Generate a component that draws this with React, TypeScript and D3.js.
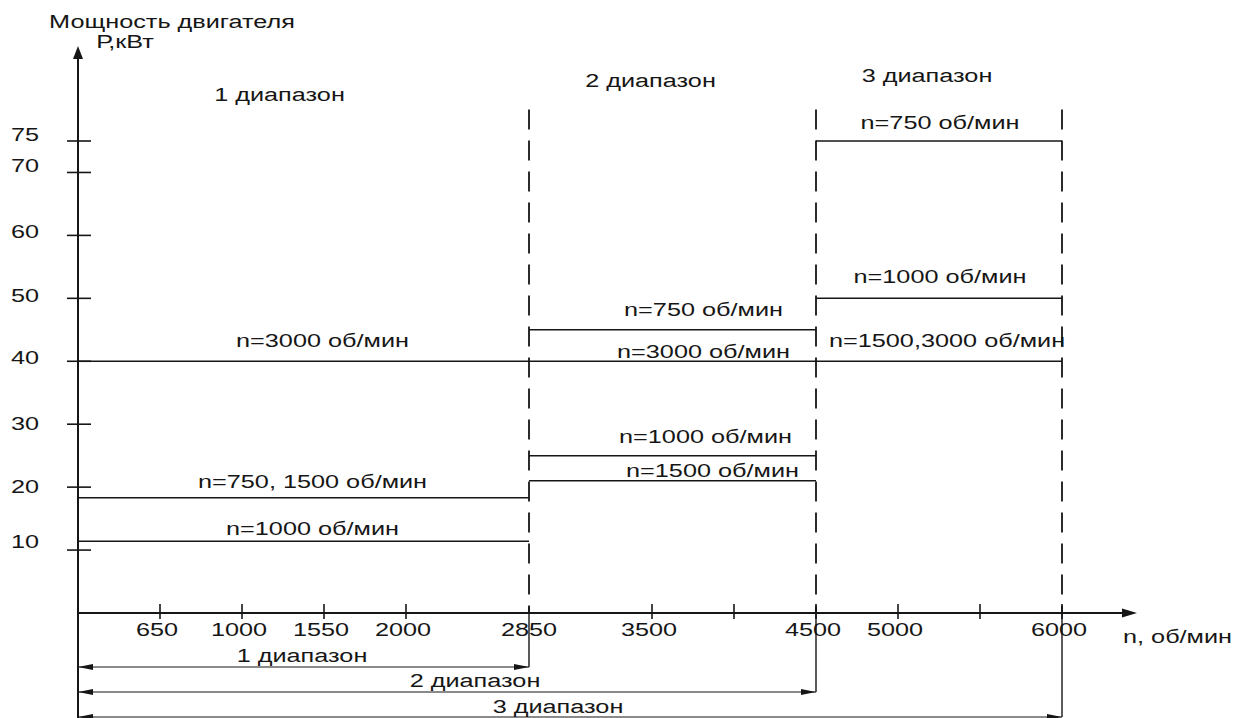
import * as d3 from 'd3'

// Ranges of the gearbox / motor
const RANGE_NAMES = ['1 диапазон', '2 диапазон', '3 диапазон']
const RANGE_START = [0, 2750, 4500]
const RANGE_END = [2750, 4500, 6000]
const RANGE_END_LABEL = '2850'

// Power levels (kW) inside each range
const SEG_RANGE = [0, 0, 0, 1, 1, 1, 1, 2, 2, 2]
const SEG_POWER = [40, 18.3, 11.4, 45, 40, 25, 21, 75, 50, 40]
const SEG_LABEL = [
  'n=3000 об/мин',
  'n=750, 1500 об/мин',
  'n=1000 об/мин',
  'n=750 об/мин',
  'n=3000 об/мин',
  'n=1000 об/мин',
  'n=1500 об/мин',
  'n=750 об/мин',
  'n=1000 об/мин',
  'n=1500,3000 об/мин',
]

// Axis ticks
const X_TICKS = [500, 1000, 1500, 2000, 3500, 4000, 4500, 5000, 5500, 6000]
const X_TICK_LABELS = ['650', '1000', '1550', '2000', '3500', '', '4500', '5000', '', '6000']
const Y_TICKS = [10, 20, 30, 40, 50, 60, 70, 75]

const W = 1242
const H = 718
const INK = '#161616'
const FONT = '"Liberation Sans", Arial, Helvetica, sans-serif'
const STRETCH = 1.33

// label layout (pixel nudges), kept apart from the data
const LABEL_LIFT = [14, 10, 6, 14, 3, 13, 4, 12, 15, 14]
const LABEL_DX = [19, 9, 9, 31, 31, 33, 40, 1, 1, 8]
const TOP_NAME_DX = [-24, -22, -12]
const TOP_NAME_Y = [101, 87, 82]
const Y_LABEL_DY = [-2, 6, 6, 3, 4, 3, 0, 0]

function Label({ x, y, text, anchor = 'middle' }: { x: number; y: number; text: string; anchor?: string }) {
  return (
    <text
      transform={`translate(${x},${y}) scale(${STRETCH},1)`}
      textAnchor={anchor}
      fontFamily={FONT}
      fontSize={19}
      fill={INK}
    >
      {text}
    </text>
  )
}

export default function App() {
  const x = d3.scaleLinear().domain([0, 6000]).range([78, 1062])
  const y = d3.scaleLinear().domain([0, 75]).range([613, 141])
  const x0 = x(0)
  const y0 = y(0)
  const dashTop = y(80)
  const arrowY = [667, 692, 717]

  return (
    <svg width={W} height={H} style={{ position: 'absolute', left: 0, top: 0, background: '#fff' }}>
      {/* title */}
      <Label x={172} y={28} text="Мощность двигателя" />
      <Label x={125} y={48} text="Р,кВт" />

      {/* y axis */}
      <line x1={x0} x2={x0} y1={54} y2={H} stroke={INK} strokeWidth={2} />
      <path d={`M${x0},46 L${x0 - 5},59 L${x0 + 5},59 Z`} fill={INK} />
      {Y_TICKS.map((t, i) => (
        <g key={t}>
          <line x1={x0 - 11} x2={x0 + 13} y1={y(t)} y2={y(t)} stroke={INK} strokeWidth={1.6} />
          <Label x={25} y={y(t) + Y_LABEL_DY[i]} text={String(t)} />
        </g>
      ))}

      {/* x axis */}
      <line x1={x0} x2={1128} y1={y0} y2={y0} stroke={INK} strokeWidth={2} />
      <path d={`M1137,${y0} L1122,${y0 - 4.5} L1122,${y0 + 4.5} Z`} fill={INK} />
      {X_TICKS.map((t, i) => (
        <g key={t}>
          <line x1={x(t)} x2={x(t)} y1={y0 - 9} y2={y0 + 6} stroke={INK} strokeWidth={1.6} />
          {X_TICK_LABELS[i] && <Label x={x(t) - 3} y={636} text={X_TICK_LABELS[i]} />}
        </g>
      ))}
      <Label x={x(RANGE_END[0])} y={636} text={RANGE_END_LABEL} />
      <Label x={1123} y={643} text="n, об/мин" anchor="start" />

      {/* range boundaries */}
      {RANGE_END.map((e, i) => (
        <g key={e}>
          <line x1={x(e)} x2={x(e)} y1={dashTop} y2={y0} stroke={INK} strokeWidth={1.8} strokeDasharray="20 11" />
          <line x1={x(e)} x2={x(e)} y1={y0 - 6} y2={arrowY[i]} stroke={INK} strokeWidth={1.4} />
        </g>
      ))}

      {/* range names on top */}
      {RANGE_NAMES.map((n, i) => (
        <Label key={n} x={(x(RANGE_START[i]) + x(RANGE_END[i])) / 2 + TOP_NAME_DX[i]} y={TOP_NAME_Y[i]} text={n} />
      ))}

      {/* power segments */}
      {SEG_POWER.map((p, i) => {
        const r = SEG_RANGE[i]
        const xa = x(RANGE_START[r])
        const xb = x(RANGE_END[r])
        return (
          <g key={i}>
            <line x1={xa} x2={xb} y1={y(p)} y2={y(p)} stroke={INK} strokeWidth={1.5} />
            <Label x={(xa + xb) / 2 + LABEL_DX[i]} y={y(p) - LABEL_LIFT[i]} text={SEG_LABEL[i]} />
          </g>
        )
      })}

      {/* range arrows below the axis */}
      {RANGE_END.map((e, i) => {
        const xb = x(e)
        const ay = arrowY[i]
        return (
          <g key={'a' + e}>
            <line x1={x0} x2={xb} y1={ay} y2={ay} stroke={INK} strokeWidth={1.2} />
            <path d={`M${x0},${ay} L${x0 + 15},${ay - 3} L${x0 + 15},${ay + 3} Z`} fill={INK} />
            <path d={`M${xb},${ay} L${xb - 15},${ay - 3} L${xb - 15},${ay + 3} Z`} fill={INK} />
          </g>
        )
      })}
      <Label x={302} y={662} text={RANGE_NAMES[0]} />
      <Label x={475} y={687} text={RANGE_NAMES[1]} />
      <Label x={558} y={713} text={RANGE_NAMES[2]} />
    </svg>
  )
}
